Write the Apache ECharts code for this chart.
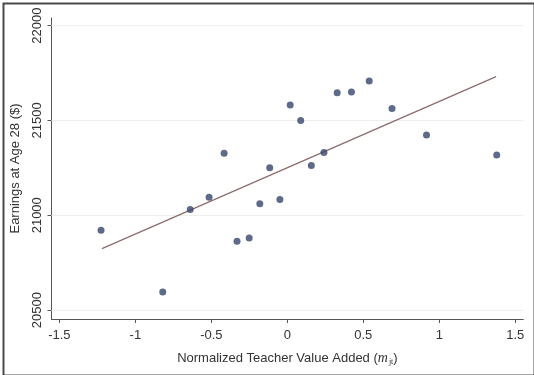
<!DOCTYPE html>
<html>
<head>
<meta charset="utf-8">
<script src="https://cdn.jsdelivr.net/npm/echarts@6/dist/echarts.min.js"></script>
<style>
html,body{margin:0;padding:0;background:#fff;}
#chart{width:534px;height:375px;}
</style>
</head>
<body>
<div id="chart"></div>
<script>
// Data
var teacherVA = [-1.226, -0.820, -0.639, -0.515, -0.416, -0.331, -0.251, -0.181, -0.116, -0.049,
                 0.019, 0.088, 0.158, 0.241, 0.328, 0.422, 0.539, 0.689, 0.916, 1.378];
var earnings  = [20921, 20595, 21030, 21095, 21327, 20863, 20880, 21060, 21250, 21083,
                 21581, 21500, 21262, 21331, 21646, 21650, 21708, 21563, 21423, 21318];
var fitX = [-1.220, 1.374];
var fitY = [20824, 21731];
var xTicks = [-1.5, -1, -0.5, 0, 0.5, 1, 1.5];
var yTicks = [20500, 21000, 21500, 22000];

var points = teacherVA.map(function (x, i) { return [x, earnings[i]]; });
var fitLine = fitX.map(function (x, i) { return [x, fitY[i]]; });

var chart = echarts.init(document.getElementById('chart'), null, {renderer: 'canvas'});
var font = 'Liberation Sans, Arial, sans-serif';
chart.setOption({
  animation: false,
  backgroundColor: '#ffffff',
  grid: {left: 51.5, right: 10.7, top: 18, bottom: 56, containLabel: false},
  xAxis: {
    type: 'value', min: -1.552, max: 1.553,
    name: 'Normalized Teacher Value Added ({m|m}{s|jt})',
    nameLocation: 'middle', nameGap: 32,
    nameTextStyle: {
      fontFamily: font, fontSize: 13, color: '#333',
      rich: {
        m: {fontFamily: 'Liberation Serif, serif', fontStyle: 'italic', fontSize: 14, color: '#333'},
        s: {fontFamily: 'Liberation Serif, serif', fontSize: 8, color: '#333', padding: [7, 0, 0, 1]}
      }
    },
    axisLine: {show: true, onZero: false, lineStyle: {color: '#555', width: 1}},
    axisTick: {show: true, length: 4, customValues: xTicks, lineStyle: {color: '#555'}},
    axisLabel: {customValues: xTicks, margin: 10, fontFamily: font, fontSize: 13, color: '#333',
      formatter: function (v) { return String(v); }},
    splitLine: {show: false}
  },
  yAxis: {
    type: 'value', min: 20453, max: 22040,
    name: 'Earnings at Age 28 ($)',
    nameLocation: 'middle', nameGap: 30,
    nameTextStyle: {fontFamily: font, fontSize: 13, color: '#333'},
    axisLine: {show: true, onZero: false, lineStyle: {color: '#555', width: 1}},
    axisTick: {show: true, length: 4, customValues: yTicks, lineStyle: {color: '#555'}},
    axisLabel: {customValues: yTicks, rotate: 90, margin: 8, fontFamily: font, fontSize: 13, color: '#333',
      formatter: function (v) { return String(v); }},
    splitLine: {show: false}
  },
  graphic: [{
    type: 'rect', left: 1, top: 1, z: 100,
    shape: {width: 531, height: 372},
    style: {fill: null, stroke: '#4a4a4a', lineWidth: 2}
  }],
  series: [
    {
      type: 'scatter', data: points, symbol: 'circle', symbolSize: 7,
      itemStyle: {color: '#34466a'}, z: 5,
      markLine: {
        silent: true, symbol: ['none', 'none'], label: {show: false},
        lineStyle: {color: '#eeeeee', width: 1, type: 'solid'},
        data: yTicks.map(function (v) { return {yAxis: v}; }),
        z: 1
      }
    },
    {
      type: 'line', data: fitLine, symbol: 'none', z: 4,
      lineStyle: {color: '#8c6b6b', width: 1.2}
    }
  ]
});
</script>
</body>
</html>
